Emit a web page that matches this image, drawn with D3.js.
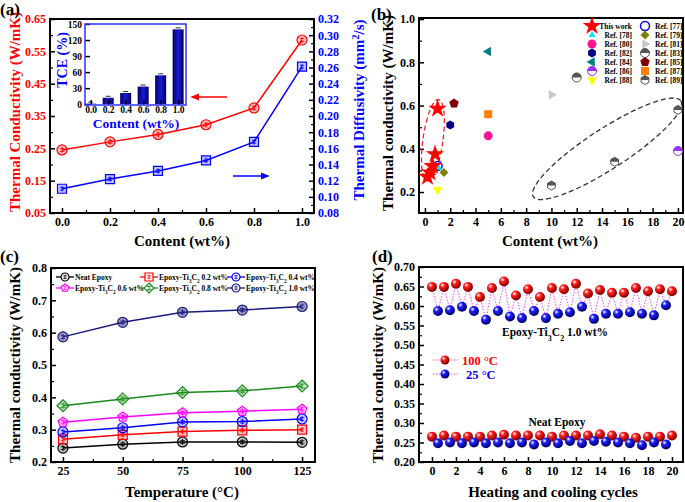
<!DOCTYPE html>
<html>
<head>
<meta charset="utf-8">
<script src="https://cdn.jsdelivr.net/npm/d3@7"></script>
<style>
  body { margin: 0; background: #fff; }
  svg { display: block; }
  text { font-family: "Liberation Serif", "Times New Roman", serif; font-weight: bold; }
</style>
</head>
<body>
<svg id="fig" width="685" height="502"></svg>
<script>
// ---------- data ----------
// (a) content vs conductivity / diffusivity, inset TCE bars
const aContent = [0, 0.2, 0.4, 0.6, 0.8, 1.0];
const aConductivity = [0.245, 0.27, 0.293, 0.323, 0.375, 0.585];
const aDiffusivity = [0.110, 0.122, 0.132, 0.145, 0.168, 0.261];
const aTCE = [1, 12, 21, 33, 54, 140];

// (b) comparison with literature
const bWorkContent = [0.2, 0.4, 0.6, 0.8, 1.0];
const bWorkK = [0.27, 0.29, 0.32, 0.375, 0.585];
const bLegendLeft = ["This work", "Ref. [78]", "Ref. [80]", "Ref. [82]", "Ref. [84]", "Ref. [86]", "Ref. [88]"];
const bLegendRight = ["Ref. [77]", "Ref. [79]", "Ref. [81]", "Ref. [83]", "Ref. [85]", "Ref. [87]", "Ref. [89]"];
const bRefPoints = [ // [ref, content (wt%), k (W/mK)]
  ["Ref. [77]", 1.0, 0.32], ["Ref. [78]", 1.1, 0.31], ["Ref. [79]", 1.5, 0.29],
  ["Ref. [80]", 5, 0.46], ["Ref. [81]", 10, 0.65], ["Ref. [82]", 2, 0.51],
  ["Ref. [83]", 12, 0.73], ["Ref. [84]", 5, 0.85], ["Ref. [85]", 2.3, 0.61],
  ["Ref. [86]", 20, 0.39], ["Ref. [87]", 5, 0.56], ["Ref. [88]", 1.0, 0.21],
  ["Ref. [89]", 10, 0.23], ["Ref. [89]", 15, 0.34], ["Ref. [89]", 20, 0.58]
];

// (c) conductivity vs temperature
const cTemps = [25, 50, 75, 100, 125];
const cNames = ["Neat Epoxy", "0.2 wt%", "0.4 wt%", "0.6 wt%", "0.8 wt%", "1.0 wt%"];
const cValues = [
  [0.243, 0.255, 0.262, 0.262, 0.261],
  [0.270, 0.284, 0.294, 0.298, 0.300],
  [0.293, 0.306, 0.324, 0.325, 0.333],
  [0.323, 0.339, 0.352, 0.357, 0.363],
  [0.374, 0.395, 0.415, 0.420, 0.435],
  [0.587, 0.632, 0.663, 0.670, 0.681]
];

// (d) heating (100 C) / cooling (25 C) cycles
const dHeatCycles = [0, 1, 2, 3, 4, 5, 6, 7, 8, 9, 10, 11, 12, 13, 14, 15, 16, 17, 18, 19, 20];
const dCoolCycles = [0.5, 1.5, 2.5, 3.5, 4.5, 5.5, 6.5, 7.5, 8.5, 9.5, 10.5, 11.5, 12.5, 13.5, 14.5, 15.5, 16.5, 17.5, 18.5, 19.5];
const dComp100 = [0.649, 0.649, 0.657, 0.649, 0.623, 0.646, 0.663, 0.627, 0.643, 0.623, 0.646, 0.643, 0.657, 0.632, 0.641, 0.634, 0.634, 0.646, 0.638, 0.643, 0.638];
const dComp25 = [0.587, 0.589, 0.598, 0.587, 0.565, 0.587, 0.573, 0.569, 0.587, 0.569, 0.580, 0.584, 0.598, 0.567, 0.580, 0.580, 0.584, 0.580, 0.576, 0.602];
const dNeat100 = [0.265, 0.268, 0.265, 0.265, 0.265, 0.268, 0.270, 0.268, 0.268, 0.268, 0.265, 0.268, 0.268, 0.268, 0.271, 0.268, 0.265, 0.262, 0.265, 0.265, 0.268];
const dNeat25 = [0.248, 0.250, 0.248, 0.250, 0.248, 0.250, 0.248, 0.250, 0.245, 0.250, 0.248, 0.254, 0.248, 0.254, 0.252, 0.250, 0.248, 0.243, 0.250, 0.245];

// ---------- helpers ----------
const SERIF = '"Liberation Serif","Times New Roman",serif';
const svg = d3.select("#fig");
const defs = svg.append("defs");

function poly(n, r, startDeg) {
  const pts = d3.range(n).map(i => {
    const a = (startDeg + i * 360 / n) * Math.PI / 180;
    return [r * Math.cos(a), r * Math.sin(a)];
  });
  return "M" + pts.map(p => p.join(",")).join("L") + "Z";
}
function shapePath(shape, r) {
  switch (shape) {
    case "circle": return d3.symbol().type(d3.symbolCircle).size(Math.PI * r * r)();
    case "square": return `M${-r},${-r}H${r}V${r}H${-r}Z`;
    case "diamond": return `M0,${-r}L${r},0L0,${r}L${-r},0Z`;
    case "pentagon": return poly(5, r, -90);
    case "hexagon": return poly(6, r, 30);
    case "star": return d3.symbol().type(d3.symbolStar).size(r * r * 2.2)();
    case "triUp": return poly(3, r, -90);
    case "triDown": return poly(3, r, 90);
    case "triLeft": return poly(3, r, 180);
    case "triRight": return poly(3, r, 0);
  }
}
// hollow Origin-like marker with an error cross inside
function crossMarker(g, shape, cx, cy, color, fill, r) {
  const m = g.append("g").attr("transform", `translate(${cx},${cy})`);
  m.append("path").attr("d", shapePath(shape, r))
    .attr("fill", fill).attr("stroke", color).attr("stroke-width", 1.2);
  m.append("path").attr("d", `M0,${-r * 0.6}V${r * 0.6}M${-r * 0.45},${-r * 0.3}H${r * 0.45}M${-r * 0.45},${r * 0.3}H${r * 0.45}`)
    .attr("stroke", color).attr("stroke-width", 0.8);
}
function halfMarker(g, cx, cy, r, color, shape) {
  const m = g.append("g").attr("transform", `translate(${cx},${cy})`);
  m.append("path").attr("d", shapePath(shape, r)).attr("fill", "#fff").attr("stroke", color).attr("stroke-width", 1);
  m.append("clipPath").attr("id", "hc" + Math.round(cx) + "_" + Math.round(cy))
    .append("rect").attr("x", -r - 1).attr("y", -r - 1).attr("width", 2 * r + 2).attr("height", r + 1);
  m.append("path").attr("d", shapePath(shape, r)).attr("fill", color)
    .attr("clip-path", `url(#hc${Math.round(cx)}_${Math.round(cy)})`);
}
function axis(g, fn, scale, pos, majors, minors, fmt, color, size, pad) {
  const a = g.append("g").attr("transform", pos)
    .call(fn(scale).tickValues(majors).tickFormat(fmt).tickSize(-5).tickSizeOuter(0).tickPadding(pad == null ? 4 : pad))
    .attr("font-family", SERIF).attr("font-size", size || 12).attr("font-weight", "bold");
  a.select(".domain").remove();
  a.selectAll("line").attr("stroke-width", 1.5).attr("stroke", "#000");
  a.selectAll("text").attr("fill", color || "#000");
  if (minors) {
    const b = g.append("g").attr("transform", pos)
      .call(fn(scale).tickValues(minors).tickFormat("").tickSize(-3).tickSizeOuter(0));
    b.select(".domain").remove();
    b.selectAll("line").attr("stroke-width", 1.2);
  }
  return a;
}
function frame(g, x, y, color, w) {
  const [x0, x1] = x.range(), [y0, y1] = y.range();
  g.append("rect").attr("x", x0).attr("y", y1).attr("width", x1 - x0).attr("height", y0 - y1)
    .attr("fill", "none").attr("stroke", color || "#000").attr("stroke-width", w || 2);
}
function ticksBetween(lo, hi, step) { return d3.range(lo, hi + step / 2, step).map(v => +v.toFixed(4)); }
function vtitle(g, x, y, txt, color, size) {
  return g.append("text").attr("transform", `translate(${x},${y}) rotate(-90)`)
    .attr("text-anchor", "middle").attr("font-size", size || 15).attr("fill", color || "#000").text(txt);
}
function htitle(g, x, y, txt, color, size) {
  return g.append("text").attr("x", x).attr("y", y)
    .attr("text-anchor", "middle").attr("font-size", size || 15).attr("fill", color || "#000").text(txt);
}
function tiLabel(sel, suffix) {
  sel.append("tspan").text("Epoxy-Ti");
  sel.append("tspan").attr("baseline-shift", "sub").attr("font-size", "70%").text("3");
  sel.append("tspan").text("C");
  sel.append("tspan").attr("baseline-shift", "sub").attr("font-size", "70%").text("2");
  sel.append("tspan").text(" " + suffix);
}
function sphereGrad(id, base, dark) {
  const gr = defs.append("radialGradient").attr("id", id).attr("cx", "35%").attr("cy", "32%").attr("r", "65%");
  gr.append("stop").attr("offset", "0%").attr("stop-color", "#fff");
  gr.append("stop").attr("offset", "35%").attr("stop-color", base);
  gr.append("stop").attr("offset", "100%").attr("stop-color", dark);
}
sphereGrad("gRed", "#ff2020", "#8a0000");
sphereGrad("gBlue", "#2020ff", "#00006a");
const barGrad = defs.append("linearGradient").attr("id", "gBar");
barGrad.append("stop").attr("offset", "0%").attr("stop-color", "#000060");
barGrad.append("stop").attr("offset", "50%").attr("stop-color", "#1a1ad8");
barGrad.append("stop").attr("offset", "100%").attr("stop-color", "#000060");
function arrowHead(id, color) {
  defs.append("marker").attr("id", id).attr("viewBox", "0 0 10 10").attr("refX", 8).attr("refY", 5)
    .attr("markerWidth", 6).attr("markerHeight", 6).attr("orient", "auto-start-reverse")
    .append("path").attr("d", "M0,1L10,5L0,9Z").attr("fill", color);
}
arrowHead("arRed", "#ff0000");
arrowHead("arBlue", "#0000ff");

// ---------- panel (a) ----------
const pa = svg.append("g");
const ax = d3.scaleLinear().domain([-0.05, 1.05]).range([50, 314]);
const ayL = d3.scaleLinear().domain([0.05, 0.65]).range([213, 19]);
const ayR = d3.scaleLinear().domain([0.08, 0.32]).range([213, 19]);
axis(pa, d3.axisBottom, ax, "translate(0,213)", ticksBetween(0, 1, 0.2), ticksBetween(0.1, 0.9, 0.2), d3.format(".1f"));
axis(pa, d3.axisLeft, ayL, "translate(50,0)", ticksBetween(0.05, 0.65, 0.1), ticksBetween(0.1, 0.6, 0.1), d3.format(".2f"), "#ff0000");
axis(pa, d3.axisRight, ayR, "translate(314,0)", ticksBetween(0.08, 0.32, 0.02), ticksBetween(0.09, 0.31, 0.02), d3.format(".2f"), "#0000ff");
frame(pa, ax, ayL);

pa.append("path").datum(aContent.map((c, i) => [c, aConductivity[i]]))
  .attr("d", d3.line().x(d => ax(d[0])).y(d => ayL(d[1])))
  .attr("fill", "none").attr("stroke", "#ff0000").attr("stroke-width", 1.5);
pa.append("path").datum(aContent.map((c, i) => [c, aDiffusivity[i]]))
  .attr("d", d3.line().x(d => ax(d[0])).y(d => ayR(d[1])))
  .attr("fill", "none").attr("stroke", "#0000ff").attr("stroke-width", 1.5);
aContent.forEach((c, i) => {
  crossMarker(pa, "circle", ax(c), ayL(aConductivity[i]), "#ff0000", "rgba(255,0,0,0.25)", 5);
  crossMarker(pa, "square", ax(c), ayR(aDiffusivity[i]), "#0000ff", "rgba(0,0,255,0.25)", 4.5);
});

// inset
const ix = d3.scaleLinear().domain([-0.065, 1.09]).range([85, 186]);
const iy = d3.scaleLinear().domain([-1.5, 150]).range([105, 24]);
pa.append("rect").attr("x", 85).attr("y", 24).attr("width", 101).attr("height", 81).attr("fill", "#fff");
pa.selectAll("rect.bar").data(aTCE).join("rect").attr("class", "bar")
  .attr("x", (d, i) => ix(aContent[i]) - 5.5).attr("width", 11)
  .attr("y", d => iy(d)).attr("height", d => iy(0) - iy(d))
  .attr("fill", "url(#gBar)");
pa.selectAll("path.cap").data(aTCE).join("path").attr("class", "cap")
  .attr("d", (d, i) => `M${ix(aContent[i]) - 2.5},${iy(d) - 1.5}H${ix(aContent[i]) + 2.5}`)
  .attr("stroke", "#000").attr("stroke-width", 0.8);
axis(pa, d3.axisBottom, ix, "translate(0,105)", ticksBetween(0, 1, 0.2), null, d3.format(".1f"), "#000", 9.5, 1.5);
axis(pa, d3.axisLeft, iy, "translate(85,0)", ticksBetween(0, 150, 30), null, d3.format("d"), "#000", 9.5, 3);
frame(pa, ix, iy, "#3030ff", 1.5);
vtitle(pa, 67, 60, "TCE (%)", "#0000ff", 14);
htitle(pa, 136, 128, "Content (wt%)", "#0000ff", 13.5);

pa.append("line").attr("x1", 227).attr("x2", 192).attr("y1", 97).attr("y2", 97)
  .attr("stroke", "#ff0000").attr("stroke-width", 1.5).attr("marker-end", "url(#arRed)");
pa.append("line").attr("x1", 233).attr("x2", 268).attr("y1", 176).attr("y2", 176)
  .attr("stroke", "#0000ff").attr("stroke-width", 1.5).attr("marker-end", "url(#arBlue)");

vtitle(pa, 20, 112, "Thermal Conductivity (W/mK)", "#ff0000");
const dt = pa.append("text").attr("transform", "translate(364,110) rotate(-90)")
  .attr("text-anchor", "middle").attr("font-size", 15).attr("fill", "#0000ff");
dt.append("tspan").text("Thermal Diffusivity  (mm");
dt.append("tspan").attr("baseline-shift", "super").attr("font-size", "70%").text("2");
dt.append("tspan").text("/s)");
htitle(pa, 182, 246, "Content (wt%)");
pa.append("text").attr("x", 0).attr("y", 15).attr("font-size", 17).text("(a)");

// ---------- panel (b) ----------
const pb = svg.append("g");
const bx = d3.scaleLinear().domain([-0.47, 20.4]).range([419, 683]);
const by = d3.scaleLinear().domain([0.103, 1.005]).range([213, 18]);
axis(pb, d3.axisBottom, bx, "translate(0,213)", ticksBetween(0, 20, 2), ticksBetween(1, 19, 2), d3.format("d"));
axis(pb, d3.axisLeft, by, "translate(419,0)", ticksBetween(0.2, 1.0, 0.2), ticksBetween(0.3, 0.9, 0.2), d3.format(".1f"));
frame(pb, bx, by);

const bStyle = {
  "Ref. [77]": { shape: "circle", fill: "none", stroke: "#0000ff", r: 4.5 },
  "Ref. [78]": { shape: "triUp", fill: "#00e5ee", r: 4 },
  "Ref. [79]": { shape: "diamond", fill: "#808000", r: 4.5 },
  "Ref. [80]": { shape: "circle", fill: "#ff1493", r: 4.5 },
  "Ref. [81]": { shape: "triRight", fill: "#c8c8c8", r: 5.5 },
  "Ref. [82]": { shape: "hexagon", fill: "#000080", r: 4.5 },
  "Ref. [83]": { half: "circle", fill: "#555", r: 4.5 },
  "Ref. [84]": { shape: "triLeft", fill: "#008080", r: 5.5 },
  "Ref. [85]": { shape: "pentagon", fill: "#800000", r: 5 },
  "Ref. [86]": { half: "circle", fill: "#9b30ff", r: 4.5 },
  "Ref. [87]": { shape: "square", fill: "#ff8000", r: 4 },
  "Ref. [88]": { shape: "triDown", fill: "#ffff00", r: 5.5 },
  "Ref. [89]": { half: "hexagon", fill: "#555", r: 4.5 }
};
function bMarker(g, ref, cx, cy) {
  if (ref === "This work") {
    g.append("path").attr("transform", `translate(${cx},${cy})`).attr("d", shapePath("star", 7)).attr("fill", "#ff0000");
    return;
  }
  const s = bStyle[ref];
  if (s.half) { halfMarker(g, cx, cy, s.r, s.fill, s.half); return; }
  g.append("path").attr("transform", `translate(${cx},${cy})`).attr("d", shapePath(s.shape, s.r))
    .attr("fill", s.fill).attr("stroke", s.stroke || "none").attr("stroke-width", 1.5);
}
// dashed ellipses grouping points
pb.append("ellipse").attr("transform", `translate(${bx(0.63)},${by(0.44)}) rotate(8)`)
  .attr("rx", 10).attr("ry", 41).attr("fill", "none").attr("stroke", "#ff2020")
  .attr("stroke-width", 1.3).attr("stroke-dasharray", "5,3");
pb.append("ellipse").attr("transform", `translate(${bx(14.4)},${by(0.40)}) rotate(-33)`)
  .attr("rx", 88).attr("ry", 20).attr("fill", "none").attr("stroke", "#333")
  .attr("stroke-width", 1.3).attr("stroke-dasharray", "5,3");
bRefPoints.forEach(d => bMarker(pb, d[0], bx(d[1]), by(d[2])));
bWorkContent.forEach((c, i) => bMarker(pb, "This work", bx(c), by(bWorkK[i])));
// legend
bLegendLeft.forEach((name, i) => {
  const yy = 26 + i * 9;
  bMarker(pb, name, 592, yy);
  pb.append("text").attr("x", 632).attr("y", yy + 2.5).attr("text-anchor", "end").attr("font-size", 7.5).text(name);
});
bLegendRight.forEach((name, i) => {
  const yy = 26 + i * 9;
  bMarker(pb, name, 645, yy);
  pb.append("text").attr("x", 655).attr("y", yy + 2.5).attr("font-size", 7.5).text(name);
});
vtitle(pb, 393, 113, "Thermal conductivity (W/mK)");
htitle(pb, 550, 246, "Content (wt%)");
pb.append("text").attr("x", 371).attr("y", 20).attr("font-size", 17).text("(b)");

// ---------- panel (c) ----------
const pc = svg.append("g");
const cx = d3.scaleLinear().domain([20, 130.4]).range([51, 315]);
const cy = d3.scaleLinear().domain([0.2, 0.8]).range([462, 268]);
axis(pc, d3.axisBottom, cx, "translate(0,462)", cTemps, ticksBetween(37.5, 112.5, 25), d3.format("d"));
axis(pc, d3.axisLeft, cy, "translate(51,0)", ticksBetween(0.2, 0.8, 0.1), ticksBetween(0.25, 0.75, 0.1), d3.format(".1f"));
frame(pc, cx, cy);
const cStyle = [
  { shape: "circle", color: "#000000", fill: "rgba(0,0,0,0.25)" },
  { shape: "square", color: "#ff0000", fill: "rgba(255,0,0,0.2)" },
  { shape: "circle", color: "#0000ff", fill: "rgba(0,0,255,0.2)" },
  { shape: "pentagon", color: "#ff00ff", fill: "rgba(255,0,255,0.2)" },
  { shape: "diamond", color: "#1a8a1a", fill: "rgba(26,138,26,0.2)" },
  { shape: "circle", color: "#1a1a80", fill: "rgba(40,40,120,0.45)" }
];
cValues.forEach((vals, k) => {
  const st = cStyle[k];
  pc.append("path").datum(vals)
    .attr("d", d3.line().x((d, i) => cx(cTemps[i])).y(d => cy(d)))
    .attr("fill", "none").attr("stroke", st.color).attr("stroke-width", 1.5);
  vals.forEach((v, i) => crossMarker(pc, st.shape, cx(cTemps[i]), cy(v), st.color, st.fill,
    st.shape === "square" ? 4.5 : st.shape === "diamond" ? 6 : 5));
});
cNames.forEach((name, k) => {
  const sx = [65, 149, 236][k % 3], sy = k < 3 ? 277 : 288;
  const st = cStyle[k];
  pc.append("line").attr("x1", sx - 9).attr("x2", sx + 9).attr("y1", sy).attr("y2", sy)
    .attr("stroke", st.color).attr("stroke-width", 1.3);
  crossMarker(pc, st.shape, sx, sy, st.color, "#fff", st.shape === "diamond" ? 5 : 4);
  const t = pc.append("text").attr("x", sx + 10).attr("y", sy + 2.5).attr("font-size", 7.5);
  if (k === 0) t.text(name); else tiLabel(t, name);
});
vtitle(pc, 20, 365, "Thermal conductivity (W/mK)");
htitle(pc, 182, 497, "Temperature (\u00B0C)");
pc.append("text").attr("x", 0).attr("y", 262).attr("font-size", 17).text("(c)");

// ---------- panel (d) ----------
const pd = svg.append("g");
const dx = d3.scaleLinear().domain([-1.08, 20.92]).range([419, 683]);
const dy = d3.scaleLinear().domain([0.2, 0.7]).range([462, 267]);
axis(pd, d3.axisBottom, dx, "translate(0,462)", ticksBetween(0, 20, 2), ticksBetween(1, 19, 2), d3.format("d"));
axis(pd, d3.axisLeft, dy, "translate(419,0)", ticksBetween(0.2, 0.7, 0.05), ticksBetween(0.225, 0.675, 0.05), d3.format(".2f"));
frame(pd, dx, dy);
function zigzag(hot, cold) {
  const pts = [];
  dHeatCycles.forEach((c, i) => {
    pts.push([c, hot[i]]);
    if (i < dCoolCycles.length) pts.push([dCoolCycles[i], cold[i]]);
  });
  return pts;
}
[[dComp100, dComp25], [dNeat100, dNeat25]].forEach(([hot, cold]) => {
  pd.append("path").datum(zigzag(hot, cold))
    .attr("d", d3.line().x(d => dx(d[0])).y(d => dy(d[1])))
    .attr("fill", "none").attr("stroke", "#ff40ff").attr("stroke-width", 1).attr("stroke-dasharray", "1.5,1.5");
  pd.selectAll(null).data(hot).join("circle")
    .attr("cx", (d, i) => dx(dHeatCycles[i])).attr("cy", d => dy(d)).attr("r", 5).attr("fill", "url(#gRed)");
  pd.selectAll(null).data(cold).join("circle")
    .attr("cx", (d, i) => dx(dCoolCycles[i])).attr("cy", d => dy(d)).attr("r", 5).attr("fill", "url(#gBlue)");
});
[["100 \u00B0C", "#ff0000", "url(#gRed)", 360], ["25 \u00B0C", "#0000ff", "url(#gBlue)", 374]].forEach(([lab, col, fill, yy], i) => {
  pd.append("line").attr("x1", 433).attr("x2", 458).attr("y1", yy).attr("y2", yy)
    .attr("stroke", "#ff40ff").attr("stroke-width", 1).attr("stroke-dasharray", "1.5,1.5");
  pd.append("circle").attr("cx", 445).attr("cy", yy).attr("r", 4.5).attr("fill", fill);
  pd.append("text").attr("x", i === 0 ? 462 : 466).attr("y", yy + 4.5).attr("font-size", 12.5).attr("fill", col).text(lab);
});
const dl = pd.append("text").attr("x", 555).attr("y", 336).attr("text-anchor", "middle").attr("font-size", 11.5);
tiLabel(dl, "1.0 wt%");
pd.append("text").attr("x", 557).attr("y", 426).attr("text-anchor", "middle").attr("font-size", 11.5).text("Neat Epoxy");
vtitle(pd, 383, 365, "Thermal conductivity (W/mK)");
htitle(pd, 553, 497, "Heating and cooling cycles");
pd.append("text").attr("x", 372).attr("y", 262).attr("font-size", 17).text("(d)");
</script>
</body>
</html>
